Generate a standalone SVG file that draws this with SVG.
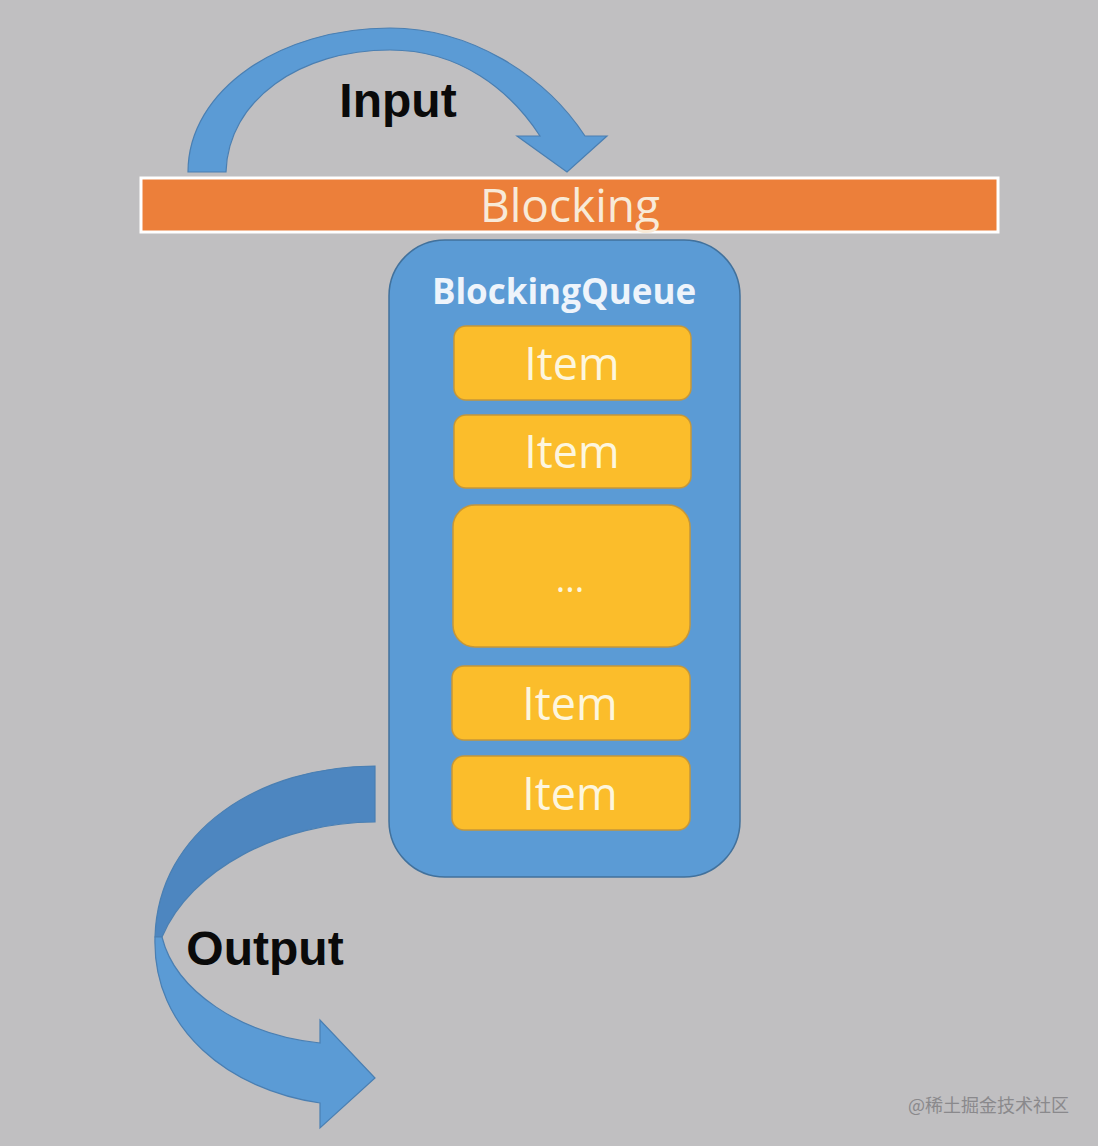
<svg xmlns="http://www.w3.org/2000/svg" width="1098" height="1146" viewBox="0 0 1098 1146">
<style>
.item rect{fill:#fbbd2b;stroke:#c5973a;stroke-width:1.5}
.itxt{font-family:"Open Sans","Liberation Sans",sans-serif;font-size:45px;fill:#fdf6de;text-anchor:middle}
.lbl{font-family:"Liberation Sans",Arial,sans-serif;font-weight:bold;font-size:48px;fill:#0a0a0a}
.arrow{fill:#5b9bd5;stroke:#4a7fb2;stroke-width:1.2}
</style>
<rect width="1098" height="1146" fill="#c0bfc1"/>
<g id="connectors">
<path class="arrow" d="M188 172 C188 90 280 28 390 28 C470 28 545 75 585 136 L607 136 L567 172 L517 136 L540 136 C510 90 460 50 390 50 C300 50 228 100 226 172 Z"/>
<path class="arrow" style="fill:#4d86c0" d="M375 766 C260 766 158 830 155 937 L162 937 C190 870 280 822 375 822 Z"/>
<path class="arrow" d="M155 937 C152 1030 230 1090 320 1103 L320 1128 L375 1078 L320 1020 L320 1043 C240 1035 175 990 162 937 Z"/>
</g>
<g id="input-label"><text class="lbl" x="398" y="117" text-anchor="middle">Input</text></g>
<g id="output-label"><text class="lbl" x="265" y="965" text-anchor="middle">Output</text></g>
<g id="blocking">
<rect x="141" y="178" width="857" height="54" fill="#ec7f3a" stroke="#ffffff" stroke-width="3"/>
<text x="570" y="222" font-family="'Open Sans','Liberation Sans',sans-serif" font-size="46" fill="#f8ead8" text-anchor="middle">Blocking</text>
</g>
<g id="queue">
<rect x="389" y="240" width="351" height="637" rx="56" fill="#5b9bd5" stroke="#41719c" stroke-width="1.5"/>
<text x="564" y="304" font-family="'Open Sans','Liberation Sans',sans-serif" font-weight="bold" font-size="35" fill="#eef4fb" text-anchor="middle">BlockingQueue</text>
</g>
<g id="item1" class="item"><rect x="454" y="326" width="237" height="74" rx="12"/><text class="itxt" x="572" y="380">Item</text></g>
<g id="item2" class="item"><rect x="454" y="415" width="237" height="73" rx="12"/><text class="itxt" x="572" y="468">Item</text></g>
<g id="item-more" class="item"><rect x="453" y="505" width="237" height="142" rx="22"/><text class="itxt" x="570" y="592" style="font-size:36px">...</text></g>
<g id="item3" class="item"><rect x="452" y="666" width="238" height="74" rx="12"/><text class="itxt" x="570" y="720">Item</text></g>
<g id="item4" class="item"><rect x="452" y="756" width="238" height="74" rx="12"/><text class="itxt" x="570" y="810">Item</text></g>
<text x="908" y="1112" font-family="'Noto Sans CJK SC','Liberation Sans',sans-serif" font-size="18" fill="#8a898c">@稀土掘金技术社区</text>
</svg>
